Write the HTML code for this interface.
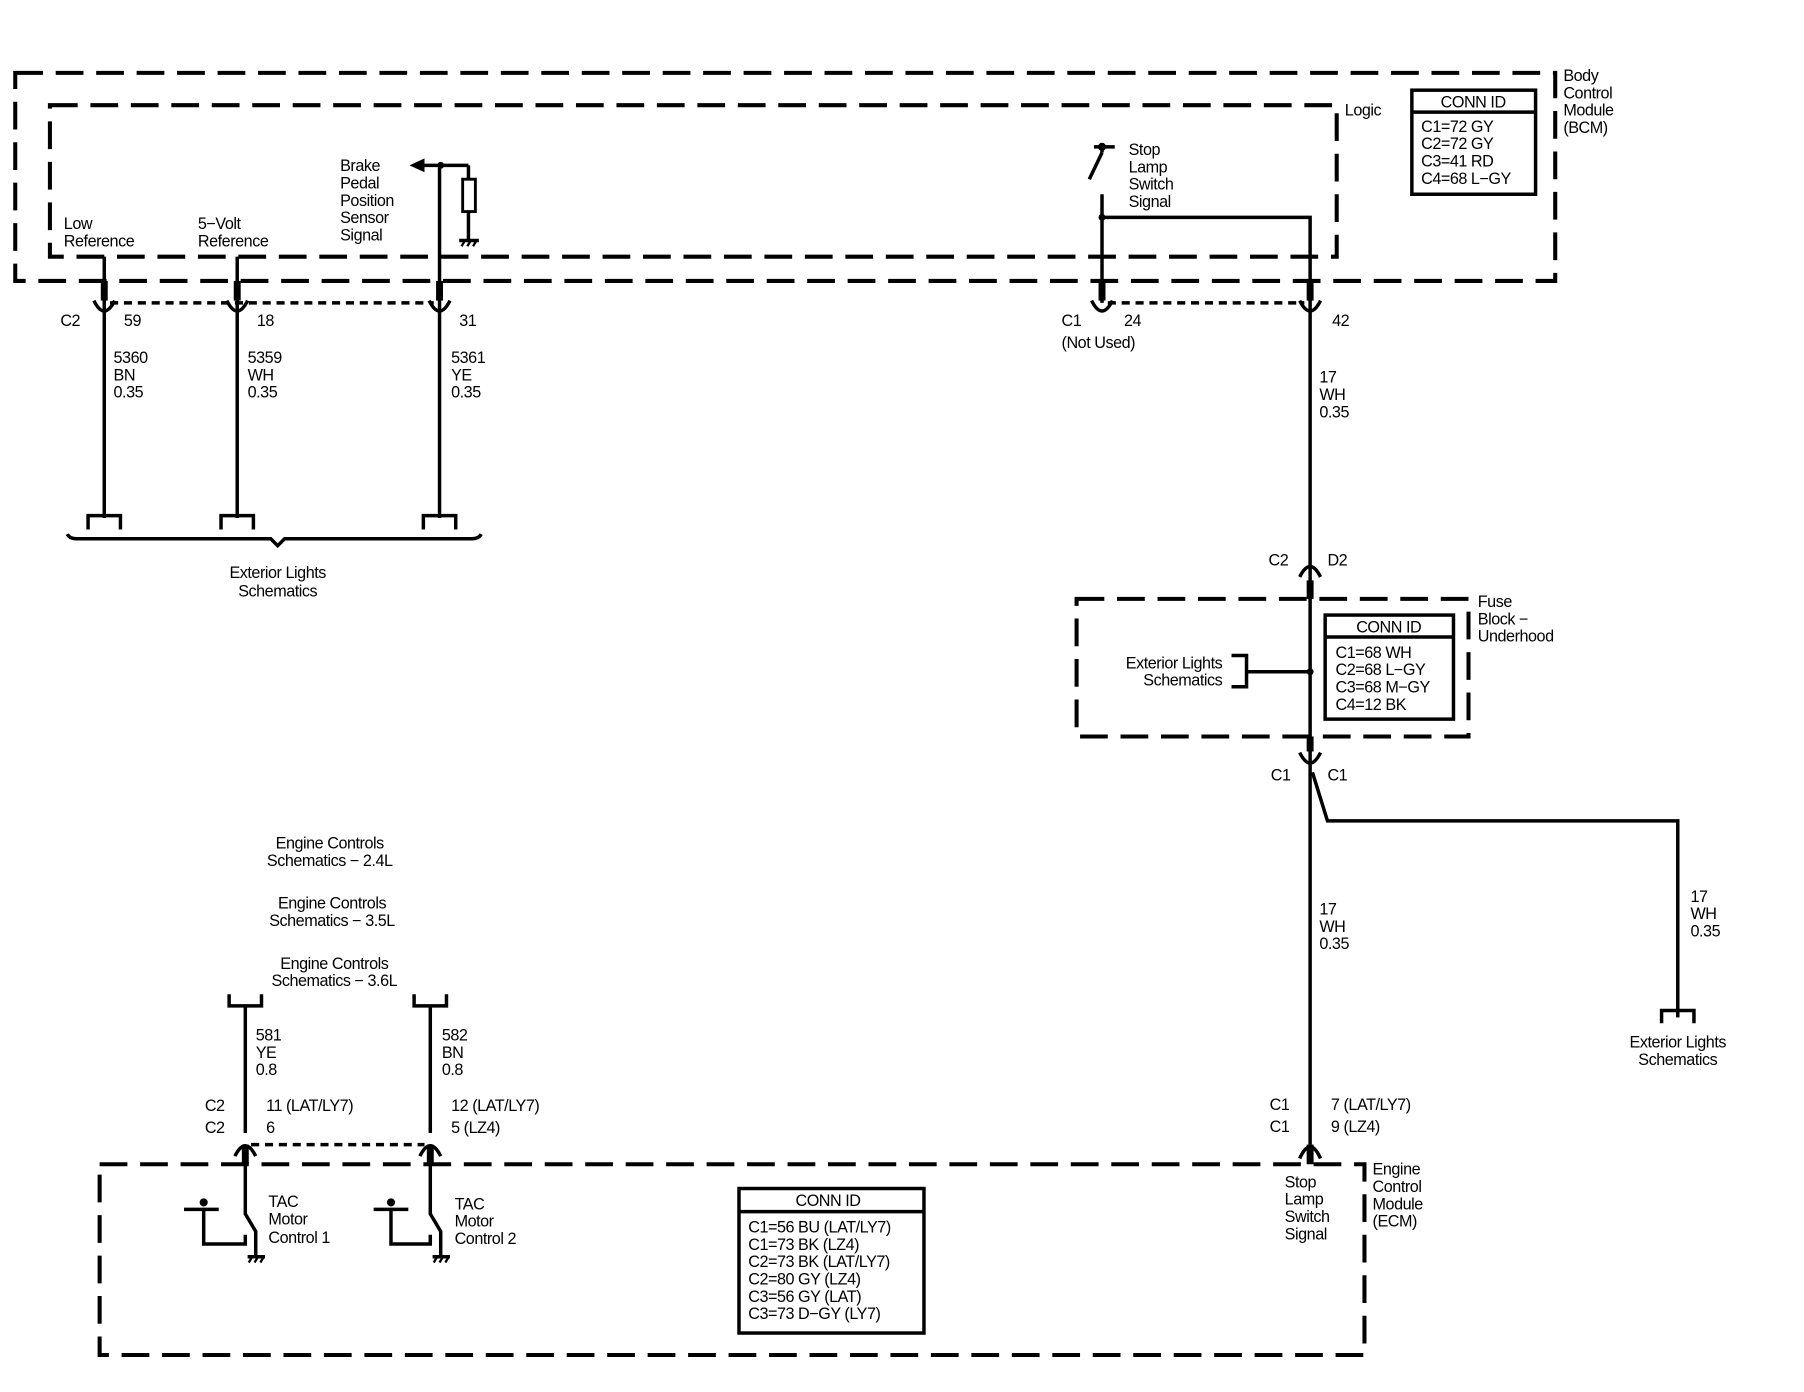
<!DOCTYPE html>
<html><head><meta charset="utf-8">
<style>
html,body{margin:0;padding:0;background:#fff;}
svg{display:block;}
text{font-family:"Liberation Sans",Arial,sans-serif;font-size:14px;fill:#000;letter-spacing:-0.4px;}
</style></head>
<body>
<svg width="1804" height="1392" viewBox="0 0 1560 1204" xmlns="http://www.w3.org/2000/svg">
<g fill="none" stroke="#000" stroke-width="3.5">
  <!-- BCM outer box -->
  <rect x="13" y="63" width="1332" height="180" stroke-dasharray="24,11"/>
  <!-- Logic inner -->
  <rect x="43" y="91" width="1113" height="131" stroke-dasharray="24,11"/>
  <!-- Fuse block -->
  <rect x="931" y="518" width="339" height="119" stroke-dasharray="24,11"/>
  <!-- ECM -->
  <rect x="86" y="1007" width="1094" height="165" stroke-dasharray="24,11"/>
</g>
<g fill="none" stroke="#000" stroke-width="3">
  <!-- dotted connector lines -->
  <line x1="95" y1="262" x2="375" y2="262" stroke-dasharray="7,5"/>
  <line x1="958" y1="262" x2="1128" y2="262" stroke-dasharray="7,5"/>
  <line x1="217" y1="990" x2="367" y2="990" stroke-dasharray="7,5"/>

  <!-- BCM wires -->
  <line x1="90" y1="222" x2="90" y2="448"/>
  <line x1="205" y1="222" x2="205" y2="448"/>
  <line x1="380" y1="143" x2="380" y2="448"/>
  <!-- connectors U -->
  <path d="M81,260 Q90,278 99,260"/>
  <path d="M196,260 Q205,278 214,260"/>
  <path d="M371,260 Q380,278 389,260"/>
  <path d="M944,260 Q953,278 962,260"/>
  <path d="M1124,260 Q1133,278 1142,260"/>
  <!-- bottom terminals -->
  <path d="M76,458 V446 H104 V458"/>
  <path d="M191,458 V446 H219 V458"/>
  <path d="M366,458 V446 H394 V458"/>
  <path d="M58,462 Q60,466 66,466 H234 L240,472 L246,466 H408 Q414,466 416,462"/>

  <!-- brake sensor -->
  <line x1="365" y1="143" x2="405" y2="143"/>
  <line x1="405" y1="143" x2="405" y2="155"/>
  <rect x="400" y="155" width="11" height="28" stroke-width="2.5"/>
  <line x1="405" y1="183" x2="405" y2="207"/>
  <line x1="397" y1="208" x2="414" y2="208"/>

  <!-- stop lamp switch BCM -->
  <line x1="946" y1="127" x2="964" y2="127"/>
  <line x1="953" y1="127" x2="953" y2="132"/>
  <line x1="953" y1="132" x2="942" y2="155"/>
  <line x1="953" y1="168" x2="953" y2="262"/>
  <polyline points="953,188 1133,188 1133,990"/>

  <!-- C2 D2 connector -->
  <path d="M1124,499 Q1133,481 1142,499"/>
  <!-- C1 C1 fuse -->
  <path d="M1124,651 Q1133,669 1142,651"/>
  <!-- branch -->
  <polyline points="1135,668 1148,710 1451,710 1451,880"/>
  <path d="M1437,885 V874 H1465 V885"/>
  <!-- exterior lights bracket in fuse -->
  <path d="M1065,567 H1078 V594 H1065"/>
  <line x1="1078" y1="581" x2="1133" y2="581"/>

  <!-- ECM connector -->
  <path d="M1124,1002 Q1133,982 1142,1002"/>
  <!-- TAC wires -->
  <line x1="212" y1="870" x2="212" y2="980"/>
  <line x1="372" y1="870" x2="372" y2="980"/>
  <path d="M198,860 V870 H226 V860"/>
  <path d="M358,860 V870 H386 V860"/>
  <path d="M203,1000 Q212,982 221,1000"/>
  <path d="M363,1000 Q372,982 381,1000"/>
  <!-- TAC switches -->
  <polyline points="212,1007 212,1050 221,1065 221,1086"/>
  <polyline points="372,1007 372,1050 381,1065 381,1086"/>
  <path d="M159,1046 H189 M176,1046 V1076 H212 V1068"/>
  <path d="M323,1046 H353 M338,1046 V1076 H372 V1068"/>
  <line x1="214" y1="1087" x2="229" y2="1087"/>
  <line x1="374" y1="1087" x2="389" y2="1087"/>

  <!-- CONN ID boxes -->
  <rect x="1221" y="78" width="107" height="90"/>
  <line x1="1221" y1="97" x2="1328" y2="97"/>
  <rect x="1146" y="532" width="111" height="90"/>
  <line x1="1146" y1="551" x2="1257" y2="551"/>
  <rect x="639" y="1028" width="160" height="125"/>
  <line x1="639" y1="1048" x2="799" y2="1048"/>
</g>
<!-- thick connector stubs -->
<g fill="#000">
  <rect x="87" y="243" width="6" height="17"/>
  <rect x="202" y="243" width="6" height="17"/>
  <rect x="377" y="243" width="6" height="17"/>
  <rect x="950" y="243" width="6" height="17"/>
  <rect x="1130" y="243" width="6" height="17"/>
  <rect x="1130" y="502" width="6" height="16"/>
  <rect x="1130" y="637" width="6" height="13"/>
  <rect x="1130" y="990" width="6" height="17"/>
  <rect x="209" y="990" width="6" height="17"/>
  <rect x="369" y="990" width="6" height="17"/>
  <circle cx="381" cy="143" r="3"/>
  <circle cx="953" cy="127" r="3.5"/>
  <circle cx="953" cy="188" r="3"/>
  <circle cx="1133" cy="581" r="3"/>
  <circle cx="176" cy="1040" r="3.5"/>
  <circle cx="338" cy="1040" r="3.5"/>
  <polygon points="354,143 367,137 367,149"/>
</g>
<!-- ground hatch marks -->
<g stroke="#000" stroke-width="2">
  <path d="M399,213 l3,-5 M404,213 l3,-5 M409,213 l3,-5"/>
  <path d="M215,1092 l3,-5 M220,1092 l3,-5 M225,1092 l3,-5"/>
  <path d="M375,1092 l3,-5 M380,1092 l3,-5 M385,1092 l3,-5"/>
</g>

<g>
<text x="1163" y="100">Logic</text>
<text x="1352" y="70">Body</text><text x="1352" y="85">Control</text><text x="1352" y="100">Module</text><text x="1352" y="115">(BCM)</text>
<text x="1274" y="93" text-anchor="middle">CONN ID</text>
<text x="1229" y="114">C1=72 GY</text><text x="1229" y="129">C2=72 GY</text><text x="1229" y="144">C3=41 RD</text><text x="1229" y="159">C4=68 L−GY</text>

<text x="55" y="198">Low</text><text x="55" y="213">Reference</text>
<text x="171" y="198">5−Volt</text><text x="171" y="213">Reference</text>
<text x="294" y="148">Brake</text><text x="294" y="163">Pedal</text><text x="294" y="178">Position</text><text x="294" y="193">Sensor</text><text x="294" y="208">Signal</text>
<text x="976" y="134">Stop</text><text x="976" y="149">Lamp</text><text x="976" y="164">Switch</text><text x="976" y="179">Signal</text>

<text x="52" y="282">C2</text><text x="107" y="282">59</text><text x="222" y="282">18</text><text x="397" y="282">31</text>
<text x="98" y="314">5360</text><text x="98" y="329">BN</text><text x="98" y="344">0.35</text>
<text x="214" y="314">5359</text><text x="214" y="329">WH</text><text x="214" y="344">0.35</text>
<text x="390" y="314">5361</text><text x="390" y="329">YE</text><text x="390" y="344">0.35</text>
<text x="240" y="500" text-anchor="middle">Exterior Lights</text><text x="240" y="516" text-anchor="middle">Schematics</text>

<text x="918" y="282">C1</text><text x="972" y="282">24</text><text x="918" y="301">(Not Used)</text>
<text x="1152" y="282">42</text>
<text x="1141" y="331">17</text><text x="1141" y="346">WH</text><text x="1141" y="361">0.35</text>
<text x="1097" y="489">C2</text><text x="1148" y="489">D2</text>
<text x="1278" y="525">Fuse</text><text x="1278" y="540">Block −</text><text x="1278" y="555">Underhood</text>
<text x="1201" y="547" text-anchor="middle">CONN ID</text>
<text x="1155" y="569">C1=68 WH</text><text x="1155" y="584">C2=68 L−GY</text><text x="1155" y="599">C3=68 M−GY</text><text x="1155" y="614">C4=12 BK</text>
<text x="1057" y="578" text-anchor="end">Exterior Lights</text><text x="1057" y="593" text-anchor="end">Schematics</text>
<text x="1099" y="675">C1</text><text x="1148" y="675">C1</text>
<text x="1141" y="791">17</text><text x="1141" y="806">WH</text><text x="1141" y="821">0.35</text>
<text x="1462" y="780">17</text><text x="1462" y="795">WH</text><text x="1462" y="810">0.35</text>
<text x="1451" y="906" text-anchor="middle">Exterior Lights</text><text x="1451" y="921" text-anchor="middle">Schematics</text>
<text x="1098" y="960">C1</text><text x="1098" y="979">C1</text>
<text x="1151" y="960">7 (LAT/LY7)</text><text x="1151" y="979">9 (LZ4)</text>
<text x="1187" y="1016">Engine</text><text x="1187" y="1031">Control</text><text x="1187" y="1046">Module</text><text x="1187" y="1061">(ECM)</text>
<text x="1111" y="1027">Stop</text><text x="1111" y="1042">Lamp</text><text x="1111" y="1057">Switch</text><text x="1111" y="1072">Signal</text>

<text x="285" y="734" text-anchor="middle">Engine Controls</text><text x="285" y="749" text-anchor="middle">Schematics − 2.4L</text>
<text x="287" y="786" text-anchor="middle">Engine Controls</text><text x="287" y="801" text-anchor="middle">Schematics − 3.5L</text>
<text x="289" y="838" text-anchor="middle">Engine Controls</text><text x="289" y="853" text-anchor="middle">Schematics − 3.6L</text>
<text x="221" y="900">581</text><text x="221" y="915">YE</text><text x="221" y="930">0.8</text>
<text x="382" y="900">582</text><text x="382" y="915">BN</text><text x="382" y="930">0.8</text>
<text x="177" y="961">C2</text><text x="177" y="980">C2</text>
<text x="230" y="961">11 (LAT/LY7)</text><text x="230" y="980">6</text>
<text x="390" y="961">12 (LAT/LY7)</text><text x="390" y="980">5 (LZ4)</text>
<text x="232" y="1044">TAC</text><text x="232" y="1059">Motor</text><text x="232" y="1075">Control 1</text>
<text x="393" y="1046">TAC</text><text x="393" y="1061">Motor</text><text x="393" y="1076">Control 2</text>
<text x="716" y="1043" text-anchor="middle">CONN ID</text>
<text x="647" y="1066">C1=56 BU (LAT/LY7)</text><text x="647" y="1081">C1=73 BK (LZ4)</text><text x="647" y="1096">C2=73 BK (LAT/LY7)</text>
<text x="647" y="1111">C2=80 GY (LZ4)</text><text x="647" y="1126">C3=56 GY (LAT)</text><text x="647" y="1141">C3=73 D−GY (LY7)</text>
</g>
</svg>
</body></html>
